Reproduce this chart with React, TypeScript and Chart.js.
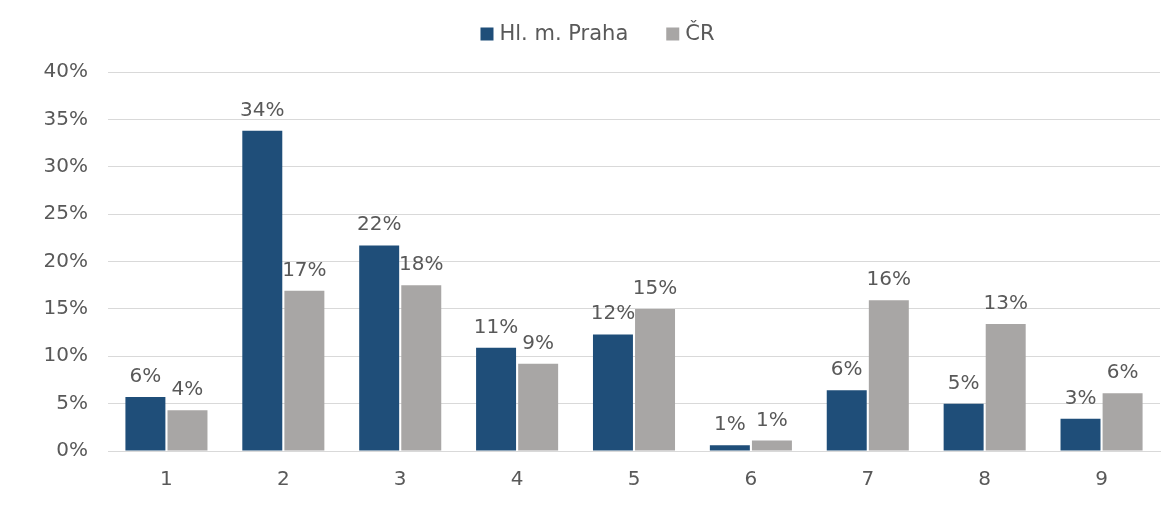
import React, { useEffect, useRef } from "react";
import { Chart, registerables } from "chart.js";

Chart.register(...registerables);

const categories = ["1", "2", "3", "4", "5", "6", "7", "8", "9"];
const prahaValues = [5.7, 33.8, 21.7, 10.9, 12.3, 0.6, 6.4, 5.0, 3.4];
const crValues = [4.3, 16.9, 17.5, 9.2, 15.0, 1.1, 15.9, 13.4, 6.1];
const seriesNames = ["Hl. m. Praha", "ČR"];
const seriesColors = ["#1F4E79", "#A8A6A5"];
const yTicks = [0, 5, 10, 15, 20, 25, 30, 35, 40];

const TEXT = "#595959";
const FONT = "'DejaVu Sans', 'Liberation Sans', Arial, sans-serif";

const labelPlugin = {
  id: "barLabels",
  afterDatasetsDraw(chart: any) {
    const ctx = chart.ctx;
    ctx.save();
    ctx.font = `20px ${FONT}`;
    ctx.fillStyle = TEXT;
    ctx.textAlign = "center";
    ctx.textBaseline = "alphabetic";
    chart.data.datasets.forEach((ds: any, i: number) => {
      const meta = chart.getDatasetMeta(i);
      meta.data.forEach((bar: any, j: number) => {
        const v = ds.data[j];
        ctx.fillText(Math.round(v) + "%", bar.x, bar.y - 15);
      });
    });
    ctx.restore();
  },
};

const legendPlugin = {
  id: "customLegend",
  afterDraw(chart: any) {
    const ctx = chart.ctx;
    ctx.save();
    ctx.font = `21px ${FONT}`;
    ctx.textBaseline = "middle";
    ctx.textAlign = "left";
    const box = 13;
    const textGap = 6;
    const itemGap = 38;
    const items = chart.data.datasets.map((ds: any) => ({
      label: ds.label,
      color: ds.backgroundColor,
      w: box + textGap + ctx.measureText(ds.label).width,
    }));
    const total = items.reduce((a: number, it: any) => a + it.w, 0) + itemGap * (items.length - 1);
    let x = chart.width / 2 + 10 - total / 2;
    const cy = 26;
    items.forEach((it: any) => {
      ctx.fillStyle = it.color;
      ctx.fillRect(x, cy - box / 2, box, box);
      ctx.fillStyle = TEXT;
      ctx.fillText(it.label, x + box + textGap, cy + 1);
      x += it.w + itemGap;
    });
    ctx.restore();
  },
};

export default function App() {
  const ref = useRef<HTMLCanvasElement>(null);
  useEffect(() => {
    if (!ref.current) return;
    const chart = new Chart(ref.current, {
      type: "bar",
      data: {
        labels: categories,
        datasets: [
          {
            label: seriesNames[0],
            data: prahaValues,
            backgroundColor: seriesColors[0],
            categoryPercentage: 0.72,
            barPercentage: 0.95,
          },
          {
            label: seriesNames[1],
            data: crValues,
            backgroundColor: seriesColors[1],
            categoryPercentage: 0.72,
            barPercentage: 0.95,
          },
        ],
      },
      options: {
        animation: false,
        responsive: false,
        maintainAspectRatio: false,
        layout: { padding: { top: 64, right: 7, left: 0, bottom: 0 } },
        plugins: {
          legend: { display: false },
          tooltip: { enabled: false },
        },
        scales: {
          x: {
            grid: { display: false, drawTicks: false },
            border: { display: true, color: "#D9D9D9", width: 1 },
            ticks: { color: TEXT, font: { family: FONT, size: 20 }, padding: 17 },
            afterFit: (s: any) => {
              s.height = 49;
            },
          },
          y: {
            min: 0,
            max: 40,
            afterBuildTicks: (s: any) => {
              s.ticks = yTicks.map((v) => ({ value: v }));
            },
            grid: { color: "#D9D9D9", drawTicks: false, lineWidth: 1 },
            border: { display: false },
            ticks: {
              color: TEXT,
              font: { family: FONT, size: 20 },
              padding: 20,
              callback: (v: any) => v + "%",
            },
            afterFit: (s: any) => {
              s.width = 100;
            },
          },
        },
      },
      plugins: [labelPlugin, legendPlugin],
    });
    return () => chart.destroy();
  }, []);
  return (
    <div style={{ width: 1159, height: 492, position: "relative" }}>
      <div
        style={{
          position: "absolute",
          left: -1,
          top: 2,
          width: 1,
          height: 490,
          background: "#D9D9D9",
        }}
      />
      <canvas ref={ref} width={1159} height={492} style={{ display: "block" }} />
    </div>
  );
}
